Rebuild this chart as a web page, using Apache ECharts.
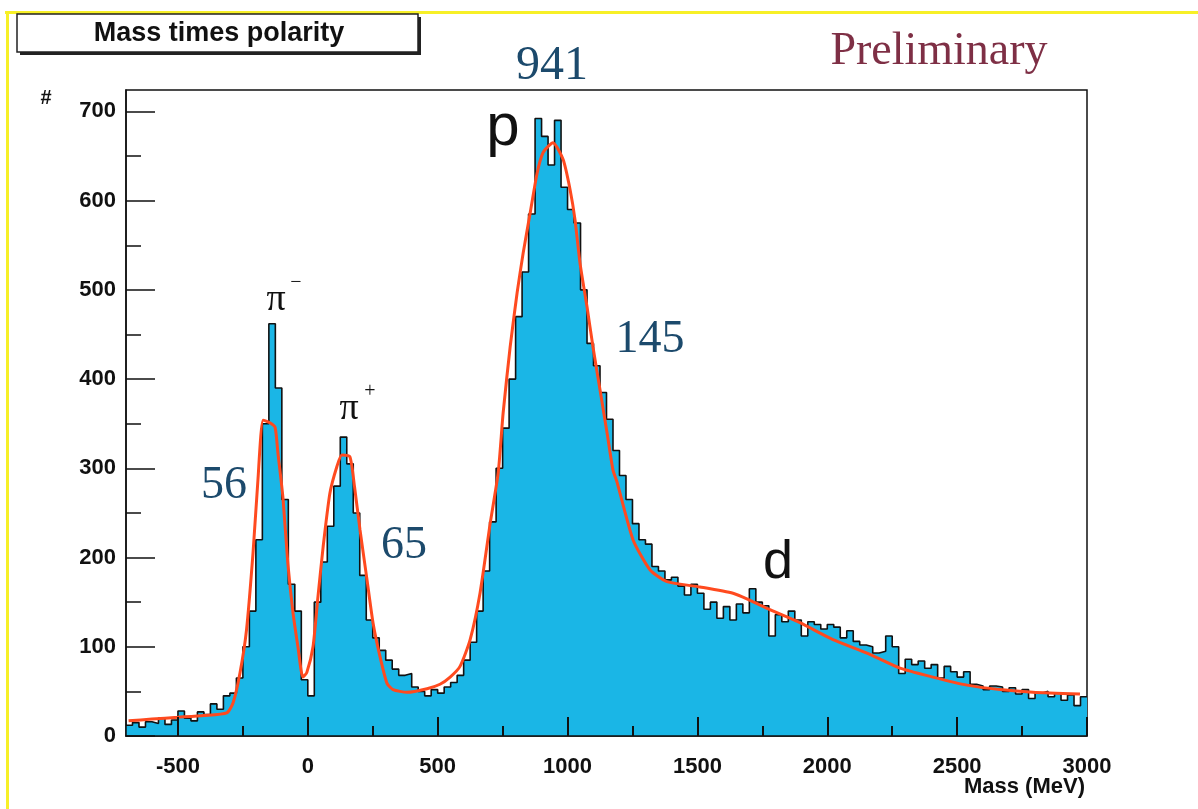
<!DOCTYPE html>
<html><head><meta charset="utf-8">
<script src="https://cdn.jsdelivr.net/npm/echarts@6/dist/echarts.min.js"></script>
<style>html,body{margin:0;padding:0;background:#fff}#c{width:1198px;height:809px}</style>
</head><body><div id="c"></div>
<script>
// Histogram: bin edges start at -700 MeV, 25 MeV wide
const binStart = -700;
const binWidth = 25;
const counts = [
  12,15,10,16,14,20,13,18,28,20,17,27,24,36,30,45,
  48,65,100,140,220,350,462,390,265,170,140,63,
  45,150,195,235,280,335,305,250,180,130,110,96,85,75,68,70,55,50,45,52,48,
  55,60,68,85,105,140,185,240,300,345,400,470,520,585,692,672,640,690,615,590,
  575,500,440,415,385,355,320,292,265,238,220,215,190,185,175,178,168,158,170,160,
  142,150,132,145,130,148,138,165,150,146,112,136,128,140,130,112,128,125,120,125,
  122,110,118,106,102,100,93,95,112,100,70,86,80,84,76,80,65,78,72,66,
  72,58,56,52,56,55,50,54,47,52,42,48,50,44,48,40,46,34,44
];
// Fit curve
const fitX = [-690,-600,-500,-400,-312,-288,-261,-236,-211,-192,-172,-146,-126,-115,-96,-77,-57,-38,-19,-4,20,39,59,85,112,131,162,180,201,228,251,278,305,328,382,459,509,548,586,625,663,702,733,752,779,806,829,856,883,906,944,983,1010,1029,1048,1075,1098,1125,1152,1175,1190,1252,1318,1383,1510,1637,1703,1768,1895,2022,2153,2280,2407,2538,2665,2792,2973];
const fitY = [17,19,21,23,26,37,71,119,205,287,354,351,346,317,268,194,138,100,66,71,100,156,212,272,302,315,313,279,231,175,127,89,59,52,49,53,58,66,78,108,160,238,295,362,436,497,541,586,631,654,665,646,612,578,530,481,436,388,340,298,285,220,186,173,167,160,152,143,127,108,93,76,66,57,52,49,47];
// Axes
const xMajorTicks = [-500,0,500,1000,1500,2000,2500,3000];
const xMinorTicks = [-250,250,750,1250,1750,2250,2750];
const yMajorTicks = [0,100,200,300,400,500,600,700];
const yMinorTicks = [50,150,250,350,450,550,650];
const xMin = -700, xMax = 3000, yMin = 0, yMax = 724;

const histData = counts.map((v,i)=>[binStart+i*binWidth, v]);
histData.push([binStart+counts.length*binWidth, counts[counts.length-1]]);
const fitData = fitX.map((x,i)=>[x, fitY[i]]);

const sans = 'Liberation Sans, Arial, sans-serif';
const serif = 'Liberation Serif, Times New Roman, serif';
const labelStyle = {fontFamily: sans, fontWeight: 'bold', fontSize: 22, color: '#111', formatter: v => String(v)};
const teal = '#1c4a6c';

const chart = echarts.init(document.getElementById('c'), null, {renderer: 'canvas'});
chart.setOption({
  animation: false,
  backgroundColor: '#ffffff',
  grid: {left: 126, right: 111, top: 90, bottom: 73, show: true, borderColor: '#111', borderWidth: 1.5, backgroundColor: 'transparent'},
  xAxis: [
    {type: 'value', min: xMin, max: xMax, position: 'bottom', z: 5,
     axisLine: {show: true, onZero: false, lineStyle: {color: '#111', width: 1.5}},
     splitLine: {show: false},
     axisTick: {show: true, inside: true, length: 19, lineStyle: {color: '#111', width: 2}, customValues: xMajorTicks},
     axisLabel: Object.assign({show: true, margin: 20, customValues: xMajorTicks}, labelStyle)},
    {type: 'value', min: xMin, max: xMax, position: 'bottom', z: 5,
     axisLine: {show: false, onZero: false}, splitLine: {show: false}, axisLabel: {show: false},
     axisTick: {show: true, inside: true, length: 10, lineStyle: {color: '#111', width: 2}, customValues: xMinorTicks}}
  ],
  yAxis: [
    {type: 'value', min: yMin, max: yMax, position: 'left', z: 5,
     axisLine: {show: true, onZero: false, lineStyle: {color: '#111', width: 1.5}},
     splitLine: {show: false},
     axisTick: {show: true, inside: true, length: 29, lineStyle: {color: '#111', width: 1.5}, customValues: yMajorTicks},
     axisLabel: Object.assign({show: true, margin: 10, customValues: yMajorTicks}, labelStyle)},
    {type: 'value', min: yMin, max: yMax, position: 'left', z: 5,
     axisLine: {show: false, onZero: false}, splitLine: {show: false}, axisLabel: {show: false},
     axisTick: {show: true, inside: true, length: 15, lineStyle: {color: '#111', width: 1.5}, customValues: yMinorTicks}}
  ],
  series: [
    {type: 'line', name: 'hist', xAxisIndex: 0, yAxisIndex: 0, step: 'end', data: histData,
     showSymbol: false, symbol: 'none',
     lineStyle: {color: '#111', width: 1.6},
     areaStyle: {color: '#1ab6e6', opacity: 1},
     z: 1},
    {type: 'line', name: 'fit', xAxisIndex: 0, yAxisIndex: 0, data: fitData, smooth: 0.2,
     showSymbol: false, symbol: 'none',
     lineStyle: {color: '#ff4a1f', width: 3},
     z: 2}
  ],
  graphic: [
    {type: 'rect', shape: {x: 5, y: 11, width: 1193, height: 3}, style: {fill: '#f7f027'}, z: 10},
    {type: 'rect', shape: {x: 6, y: 11, width: 3, height: 798}, style: {fill: '#f7f027'}, z: 10},
    {type: 'rect', shape: {x: 20, y: 17, width: 401, height: 38}, style: {fill: '#222'}, z: 11},
    {type: 'rect', shape: {x: 17, y: 14, width: 401, height: 38}, style: {fill: '#fff', stroke: '#222', lineWidth: 1.5}, z: 12},
    {type: 'text', x: 219, y: 34, style: {text: 'Mass times polarity', font: 'bold 27px ' + sans, fill: '#111', align: 'center', verticalAlign: 'middle'}, z: 13},
    {type: 'text', x: 939, y: 52, style: {text: 'Preliminary', font: '46px ' + serif, fill: '#7e2f45', align: 'center', verticalAlign: 'middle'}, z: 13},
    {type: 'text', x: 46, y: 98, style: {text: '#', font: 'bold 20px ' + sans, fill: '#111', align: 'center', verticalAlign: 'middle'}, z: 13},
    {type: 'text', x: 1085, y: 787, style: {text: 'Mass (MeV)', font: 'bold 22px ' + sans, fill: '#111', align: 'right', verticalAlign: 'middle'}, z: 13},
    {type: 'text', x: 552, y: 66, style: {text: '941', font: '48px ' + serif, fill: teal, align: 'center', verticalAlign: 'middle'}, z: 13},
    {type: 'text', x: 650, y: 340, style: {text: '145', font: '46px ' + serif, fill: teal, align: 'center', verticalAlign: 'middle'}, z: 13},
    {type: 'text', x: 224, y: 486, style: {text: '56', font: '46px ' + serif, fill: teal, align: 'center', verticalAlign: 'middle'}, z: 13},
    {type: 'text', x: 404, y: 546, style: {text: '65', font: '46px ' + serif, fill: teal, align: 'center', verticalAlign: 'middle'}, z: 13},
    {type: 'text', x: 503, y: 128, style: {text: 'p', font: '60px ' + sans, fill: '#111', align: 'center', verticalAlign: 'middle'}, z: 13},
    {type: 'text', x: 778, y: 563, style: {text: 'd', font: '54px ' + sans, fill: '#111', align: 'center', verticalAlign: 'middle'}, z: 13},
    {type: 'text', x: 276, y: 300, style: {text: 'π', font: '38px ' + serif, fill: '#111', align: 'center', verticalAlign: 'middle'}, z: 13},
    {type: 'text', x: 296, y: 283, style: {text: '−', font: '20px ' + serif, fill: '#111', align: 'center', verticalAlign: 'middle'}, z: 13},
    {type: 'text', x: 349, y: 409, style: {text: 'π', font: '38px ' + serif, fill: '#111', align: 'center', verticalAlign: 'middle'}, z: 13},
    {type: 'text', x: 370, y: 392, style: {text: '+', font: '20px ' + serif, fill: '#111', align: 'center', verticalAlign: 'middle'}, z: 13}
  ]
});
</script></body></html>
